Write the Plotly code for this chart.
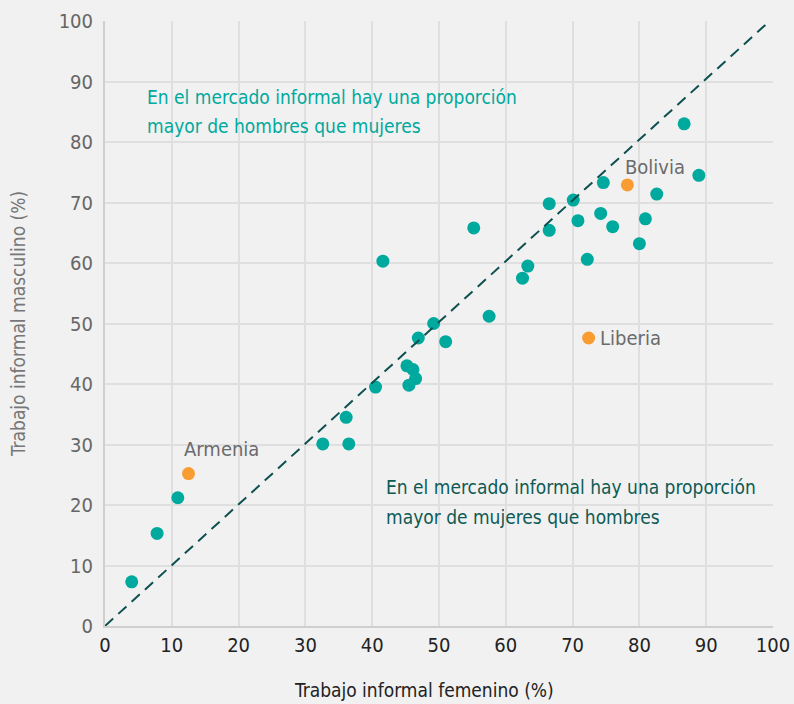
import plotly.graph_objects as go

# Data
green_x = [4.0, 7.8, 10.9, 32.6, 36.5, 36.1, 40.5, 45.5, 46.5, 46.1, 45.2, 46.9, 51.0, 49.2,
           41.6, 57.5, 55.2, 62.5, 63.3, 66.5, 66.5, 70.1, 70.8, 72.2, 74.2, 74.6, 76.0,
           80.0, 80.9, 82.6, 86.7, 88.9]
green_y = [7.3, 15.3, 21.2, 30.1, 30.1, 34.5, 39.5, 39.8, 40.9, 42.4, 43.0, 47.6, 47.0, 50.0,
           60.3, 51.2, 65.8, 57.5, 59.5, 65.4, 69.8, 70.4, 67.0, 60.6, 68.2, 73.3, 66.0,
           63.2, 67.3, 71.4, 83.0, 74.5]
hl_names = ["Armenia", "Bolivia", "Liberia"]
hl_x = [12.5, 78.2, 72.4]
hl_y = [25.2, 72.9, 47.6]
ticks = [0, 10, 20, 30, 40, 50, 60, 70, 80, 90, 100]
note_top = ["En el mercado informal hay una proporción", "mayor de hombres que mujeres"]
note_bottom = ["En el mercado informal hay una proporción", "mayor de mujeres que hombres"]

FONT = "DejaVu Sans Condensed, Roboto, sans-serif"
GREEN = "#00A99D"
ORANGE = "#F99D32"
DARK = "#0E4F4F"
BG = "#F1F1F1"
GRID = "#DFDFDF"

W, H = 794, 704
L, R, T, B = 105, 21, 21, 78
pw, ph = W - L - R, H - T - B

def py2y(py):
    return (H - B - py) / ph * 100.0

fig = go.Figure()
fig.add_trace(go.Scatter(x=green_x, y=green_y, mode="markers",
                         marker=dict(color=GREEN, size=13, line=dict(width=0)),
                         showlegend=False, hoverinfo="x+y"))
fig.add_trace(go.Scatter(x=hl_x, y=hl_y, mode="markers", text=hl_names,
                         marker=dict(color=ORANGE, size=13, line=dict(width=0)),
                         showlegend=False, hoverinfo="text+x+y"))

fig.add_shape(type="line", x0=0, y0=0, x1=99.5, y1=100, xref="x", yref="y",
              line=dict(color=DARK, width=2, dash="11px,7px"), layer="above")

annos = []
label_offsets = {"Armenia": (-1.0, 4.0), "Bolivia": (-0.6, 2.9), "Liberia": (1.4, 0.0)}
for n, x, y in zip(hl_names, hl_x, hl_y):
    dx, dy = label_offsets[n]
    annos.append(dict(x=x + dx, y=y + dy, xref="x", yref="y", text=n, showarrow=False,
                      xanchor="left", yanchor="middle",
                      font=dict(family=FONT, size=20, color="#6B6B6B")))
for txt, pyc in zip(note_top, [97, 126]):
    annos.append(dict(x=6.0, y=py2y(pyc), xref="x", yref="y", text=txt,
                      showarrow=False, xanchor="left", yanchor="middle", align="left",
                      font=dict(family=FONT, size=19, color=GREEN)))
for txt, pyc in zip(note_bottom, [487, 517]):
    annos.append(dict(x=41.7, y=py2y(pyc), xref="x", yref="y", text=txt,
                      showarrow=False, xanchor="left", yanchor="middle", align="left",
                      font=dict(family=FONT, size=19, color="#0D5A55")))
annos.append(dict(x=(424 - L) / pw, y=(H - 690 - B) / ph, xref="paper", yref="paper",
                  text="Trabajo informal femenino (%)",
                  showarrow=False, xanchor="center", yanchor="middle",
                  font=dict(family=FONT, size=19, color="#222222")))
fig.update_layout(annotations=annos)

fig.update_xaxes(range=[0, 100], tickvals=ticks, showgrid=True, gridcolor=GRID, gridwidth=2,
                 zeroline=False, showline=True, linecolor="#CFCFCF", linewidth=2,
                 ticks="", automargin=False,
                 tickfont=dict(family=FONT, size=20, color="#222222"),
                 fixedrange=True)
fig.update_yaxes(range=[0, 100], tickvals=ticks, showgrid=True, gridcolor=GRID, gridwidth=2,
                 zeroline=False, showline=True, linecolor="#CFCFCF", linewidth=2,
                 ticks="", ticklabelstandoff=6, automargin=False,
                 tickfont=dict(family=FONT, size=20, color="#666666"),
                 title=dict(text="Trabajo informal masculino (%)", standoff=28,
                            font=dict(family=FONT, size=19, color="#777777")),
                 fixedrange=True)

fig.update_layout(width=W, height=H, margin=dict(l=L, r=R, t=T, b=B, autoexpand=False),
                  paper_bgcolor=BG, plot_bgcolor=BG)

fig.write_html("out.html", config={"displayModeBar": False},
               post_script="document.body.style.margin='0';document.body.style.background='#F1F1F1';")
